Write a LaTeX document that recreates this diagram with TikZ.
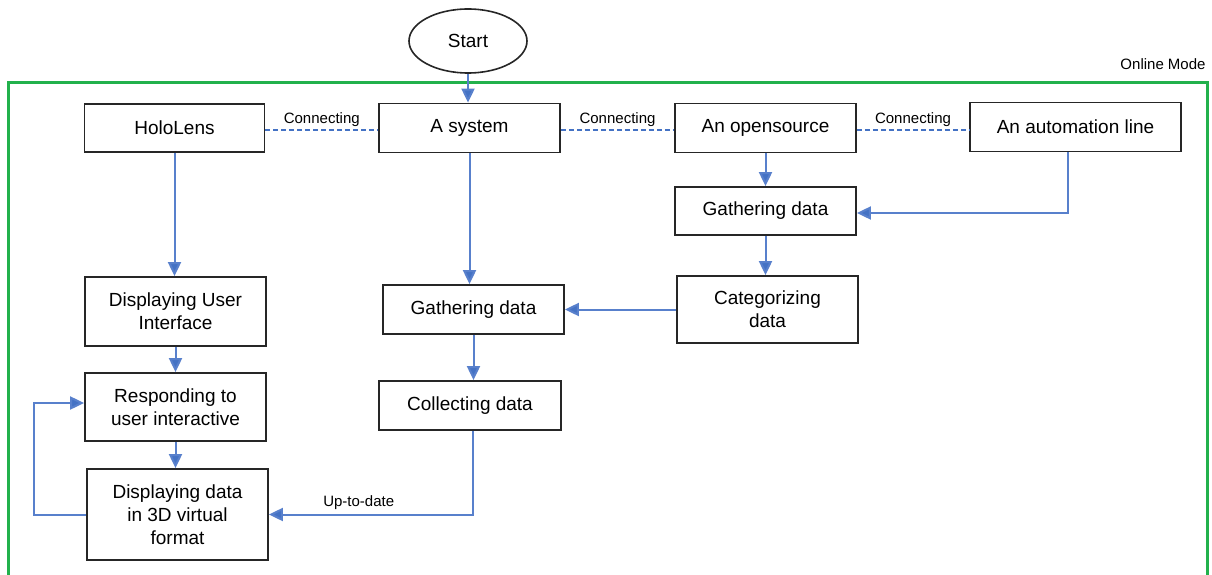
\documentclass[tikz,border=0pt]{standalone}
\usepackage{fontspec}
\setmainfont{Liberation Sans}
\usetikzlibrary{shapes.geometric,arrows.meta}
\definecolor{flowblue}{RGB}{68,114,196}
\definecolor{lineblue}{RGB}{88,128,204}
\definecolor{framegreen}{RGB}{34,177,76}
\tikzset{
  box/.style={draw=black!85, line width=1.8pt, rectangle, align=center, inner sep=0pt,
    font=\fontsize{19}{23}\selectfont},
  flow/.style={draw=lineblue, line width=2pt, -{Triangle[length=14pt,width=13pt,fill=flowblue]}},
  conn/.style={draw=flowblue, line width=1.7pt, dash pattern=on 5pt off 3pt},
  small/.style={font=\fontsize{15}{18}\selectfont, inner sep=1pt},
}
\begin{document}
\begin{tikzpicture}[x=1pt,y=-1pt]
\useasboundingbox[fill=white] (0,0) rectangle (1212,575);
% frame
\draw[framegreen, line width=3pt] (8,580) -- (8,83) -- (1207,83) -- (1207,580);
\node[small] (mode) at (1163,64) {Online Mode};
% nodes
\node[draw=black!85, line width=1.6pt, ellipse, minimum width=118pt, minimum height=64pt,
  inner sep=0pt, font=\fontsize{19}{23}\selectfont] (start) at (468,41) {Start};
\node[box, minimum width=180pt, minimum height=48pt] (holo) at (174.5,128) {HoloLens};
\node[box, minimum width=181pt, minimum height=49pt] (sys) at (469.5,128) {A system};
\node[box, minimum width=181pt, minimum height=49pt] (open) at (765.5,128) {An opensource};
\node[box, minimum width=211pt, minimum height=49pt] (auto) at (1075.5,127) {An automation line};
\node[box, minimum width=181pt, minimum height=48pt] (gath2) at (765.5,211) {Gathering data};
\node[box, minimum width=181pt, minimum height=67pt] (cat) at (767.5,309.5) {Categorizing\\data};
\node[box, minimum width=181pt, minimum height=49pt] (gath1) at (473.5,309.5) {Gathering data};
\node[box, minimum width=182pt, minimum height=49pt] (coll) at (470,405.5) {Collecting data};
\node[box, minimum width=181pt, minimum height=69pt] (dui) at (175.5,311.5) {Displaying User\\Interface};
\node[box, minimum width=181pt, minimum height=68pt] (resp) at (175.5,407) {Responding to\\user interactive};
\node[box, minimum width=181pt, minimum height=91pt] (d3d) at (177.5,514.5) {Displaying data\\in 3D virtual\\format};
% dashed connections
\draw[conn] ([yshift=-2pt]holo.east) -- node[small, above=2pt] {Connecting} ([yshift=-2pt]holo.east -| sys.west);
\draw[conn] ([yshift=-2pt]sys.east) -- node[small, above=2pt] {Connecting} ([yshift=-2pt]sys.east -| open.west);
\draw[conn] ([yshift=-2pt]open.east) -- node[small, above=2pt] {Connecting} ([yshift=-2pt]open.east -| auto.west);
% flows
\draw[flow] (start.south) -- (start.south |- sys.north);
\draw[flow] (holo.south) -- (holo.south |- dui.north);
\draw[flow] (sys.south) -- (sys.south |- gath1.north);
\draw[flow] (open.south) -- (open.south |- gath2.north);
\draw[flow] ([xshift=-7.5pt]auto.south) |- ([yshift=-2pt]gath2.east);
\draw[flow] (gath2.south) -- (gath2.south |- cat.north);
\draw[flow] (cat.west) -- (cat.west -| gath1.east);
\draw[flow] (gath1.south) -- (gath1.south |- coll.north);
\draw[flow] ([xshift=3pt]coll.south) |- node[small, pos=0.78, above=3pt] {Up-to-date} (d3d.east);
\draw[flow] (dui.south) -- (dui.south |- resp.north);
\draw[flow] (resp.south) -- (resp.south |- d3d.north);
\draw[flow] (d3d.west) -- ++(-52,0) |- ([yshift=4pt]resp.west);
\end{tikzpicture}
\end{document}
